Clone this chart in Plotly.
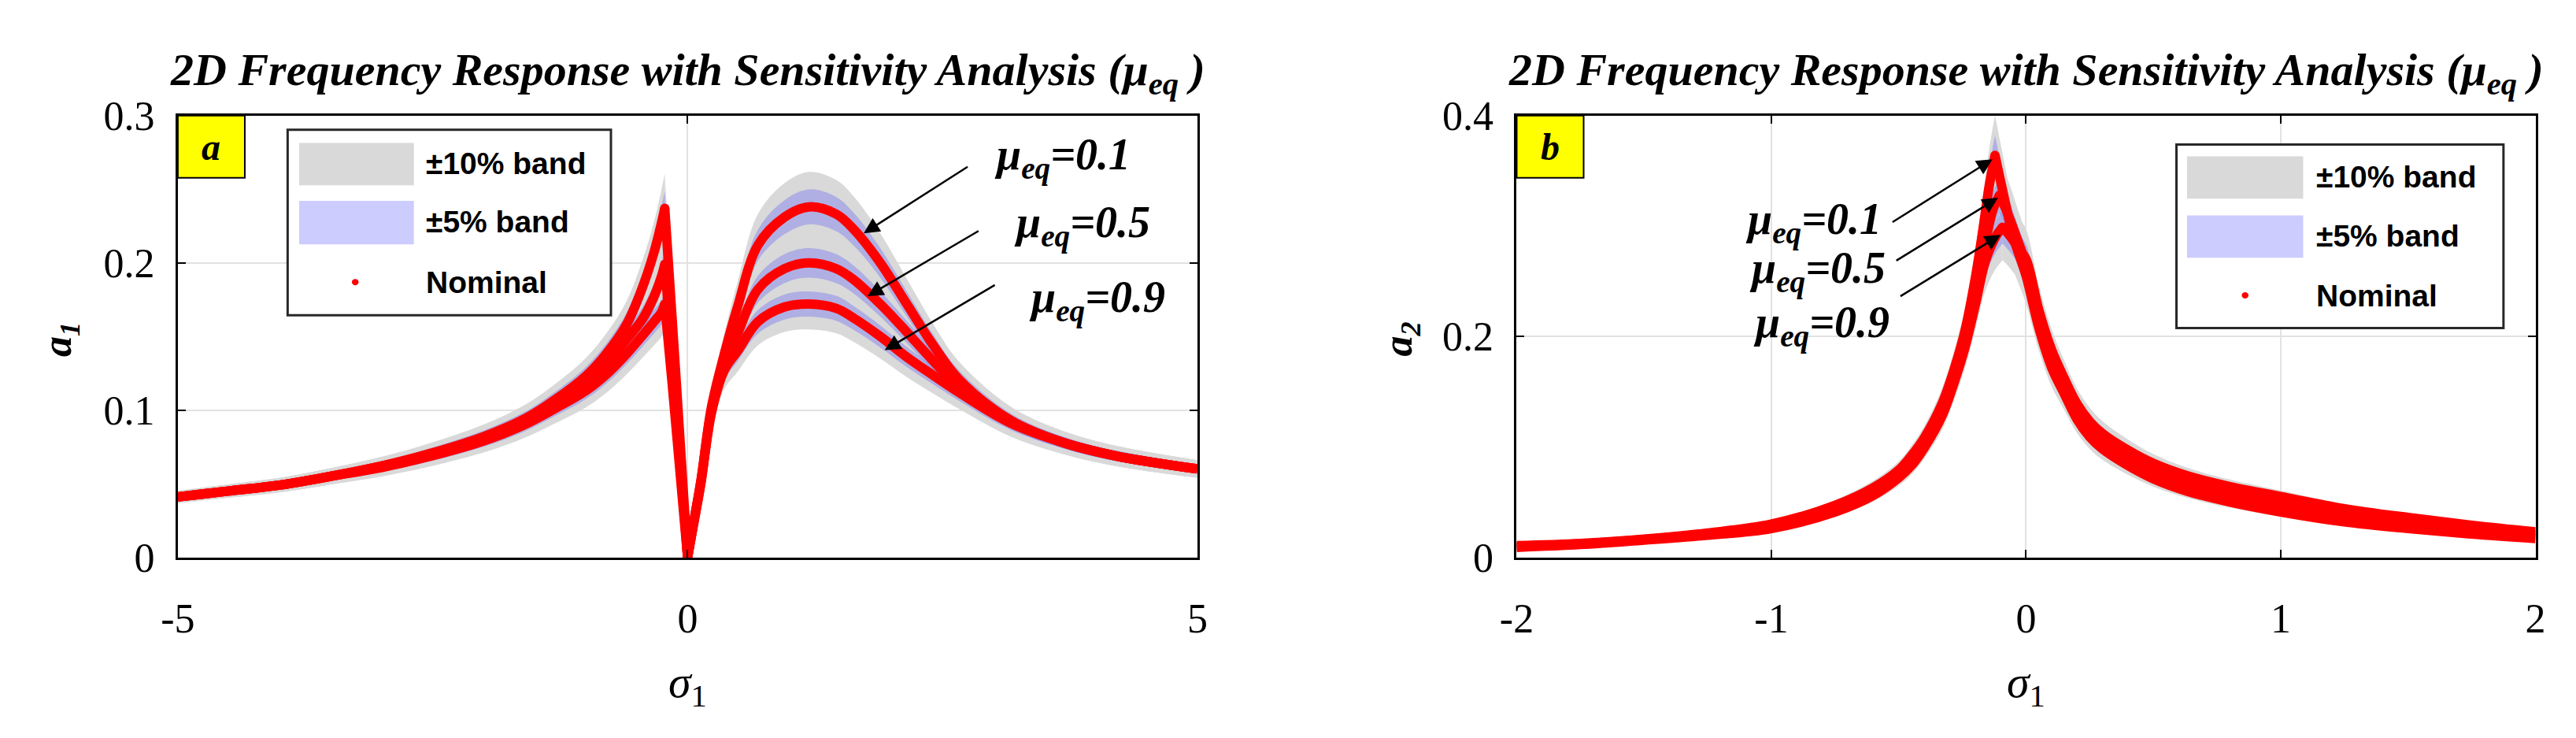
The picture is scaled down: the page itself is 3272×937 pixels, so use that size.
import plotly.graph_objects as go

# ---------------- data ----------------
mu_labels = ["0.1", "0.5", "0.9"]

# Panel a : a1 vs sigma1
sig_a = [-5, -4.5, -4, -3.5, -3, -2.5, -2, -1.6, -1.3, -1.0, -0.8, -0.6, -0.45, -0.33, -0.26, -0.224,
         -0.15, -0.1, -0.05, 0, 0.05, 0.13, 0.234, 0.36, 0.49, 0.69, 0.95, 1.19, 1.46, 1.64, 1.89,
         2.15, 2.4, 2.66, 3.17, 3.68, 4.19, 5.0]
a1_mu01 = [0.041, 0.045, 0.049, 0.055, 0.062, 0.071, 0.082, 0.094, 0.107, 0.123, 0.138, 0.158, 0.182, 0.207,
           0.226, 0.237, 0.160, 0.107, 0.053, 0.0, 0.020, 0.052, 0.102, 0.138, 0.170, 0.212, 0.231, 0.238,
           0.233, 0.222, 0.200, 0.172, 0.145, 0.121, 0.093, 0.078, 0.069, 0.060]
a1_mu05 = [0.041, 0.045, 0.049, 0.055, 0.062, 0.070, 0.080, 0.092, 0.104, 0.118, 0.131, 0.148, 0.161, 0.177,
           0.190, 0.199, 0.135, 0.090, 0.045, 0.0, 0.020, 0.051, 0.100, 0.132, 0.152, 0.182, 0.196, 0.200,
           0.196, 0.188, 0.172, 0.153, 0.134, 0.116, 0.092, 0.078, 0.069, 0.060]
a1_mu09 = [0.041, 0.045, 0.049, 0.055, 0.061, 0.069, 0.079, 0.090, 0.101, 0.113, 0.124, 0.138, 0.150, 0.160,
           0.166, 0.172, 0.117, 0.078, 0.039, 0.0, 0.019, 0.050, 0.098, 0.127, 0.140, 0.160, 0.170, 0.172,
           0.169, 0.162, 0.150, 0.136, 0.124, 0.112, 0.091, 0.078, 0.069, 0.060]

# Panel b : a2 vs sigma1
sig_b_mu01 = [-2.0, -1.75, -1.5, -1.25, -1.0, -0.75, -0.6, -0.5, -0.45, -0.4, -0.33, -0.28, -0.24, -0.2, -0.17,
              -0.145, -0.122, -0.09, -0.05, 0.0, 0.05, 0.1, 0.15, 0.2, 0.25, 0.3, 0.4, 0.5, 0.63, 0.8, 1.0, 1.25,
              1.5, 1.75, 2.0]
a2_mu01 = [0.0105, 0.0125, 0.0165, 0.022, 0.030, 0.047, 0.063, 0.079, 0.092, 0.108, 0.139, 0.172, 0.205, 0.252,
           0.296, 0.336, 0.364, 0.330, 0.290, 0.255, 0.208, 0.172, 0.148, 0.125, 0.109, 0.098, 0.083, 0.071,
           0.060, 0.050, 0.041, 0.032, 0.026, 0.021, 0.017]
sig_b_mu05 = [-2.0, -1.75, -1.5, -1.25, -1.0, -0.75, -0.6, -0.5, -0.45, -0.4, -0.33, -0.28, -0.24, -0.2, -0.16,
              -0.13, -0.104, -0.07, -0.03, 0.0, 0.05, 0.1, 0.15, 0.2, 0.25, 0.3, 0.4, 0.5, 0.63, 0.8, 1.0, 1.25,
              1.5, 1.75, 2.0]
a2_mu05 = [0.0097, 0.012, 0.016, 0.021, 0.028, 0.044, 0.060, 0.076, 0.088, 0.104, 0.134, 0.166, 0.198, 0.240,
           0.285, 0.315, 0.328, 0.310, 0.285, 0.265, 0.216, 0.180, 0.155, 0.132, 0.116, 0.105, 0.090, 0.078,
           0.067, 0.057, 0.048, 0.038, 0.031, 0.025, 0.020]
sig_b_mu09 = [-2.0, -1.75, -1.5, -1.25, -1.0, -0.75, -0.6, -0.5, -0.45, -0.4, -0.33, -0.28, -0.24, -0.2, -0.16,
              -0.12, -0.092, -0.06, -0.03, 0.0, 0.05, 0.1, 0.15, 0.2, 0.25, 0.3, 0.4, 0.5, 0.63, 0.8, 1.0, 1.25,
              1.5, 1.75, 2.0]
a2_mu09 = [0.009, 0.0115, 0.0155, 0.020, 0.026, 0.041, 0.056, 0.072, 0.083, 0.099, 0.128, 0.160, 0.190, 0.228,
           0.268, 0.290, 0.299, 0.290, 0.280, 0.270, 0.224, 0.188, 0.162, 0.139, 0.123, 0.112, 0.097, 0.085,
           0.074, 0.064, 0.055, 0.044, 0.036, 0.029, 0.023]

band_outer = 0.10   # +/-10 % band
band_inner = 0.05   # +/-5 % band

x_ticks_a = [-5, 0, 5]
x_ticks_b = [-2, -1, 0, 1, 2]
y_ticks_a = [0, 0.1, 0.2, 0.3]
y_ticks_b = [0, 0.2, 0.4]

# annotation anchor points (data coords): arrow head, arrow tail, label centre
arrows_a = [((1.727, 0.2201), (2.758, 0.2658), (3.68, 0.2714)),
            ((1.765, 0.1774), (2.865, 0.2221), (3.87, 0.2250)),
            ((1.933, 0.1407), (3.025, 0.1854), (4.02, 0.1744))]
arrows_b = [((-0.132, 0.3605), (-0.529, 0.3029), (-0.835, 0.3029)),
            ((-0.110, 0.3256), (-0.514, 0.2680), (-0.820, 0.2593)),
            ((-0.100, 0.2920), (-0.498, 0.2358), (-0.805, 0.2097))]

# ---------------- styles ----------------
GRAY = "rgb(217,217,217)"
BLUE_PLOT = "rgba(140,140,235,0.55)"
BLUE_LEG = "rgb(204,204,255)"
RED = "rgb(255,0,0)"
SERIF = "Liberation Serif"
SANS = "Liberation Sans"
LINE_W = 12

fig = go.Figure()


def sharp_points(s, a):
    """indices where the response has a cusp: the resonance tip (max over sigma<0) and sigma=0 notch."""
    neg = [i for i, v in enumerate(s) if v < 0]
    tip = max(neg, key=lambda i: a[i])
    cuts = [tip]
    if 0 in s and a[s.index(0)] == 0:
        cuts.append(s.index(0))
    return cuts


def split(seq, cuts):
    bounds = [0] + cuts + [len(seq) - 1]
    return [seq[bounds[i]:bounds[i + 1] + 1] for i in range(len(bounds) - 1)]


def add_band(s, a, frac, color, xa, ya):
    cuts = sharp_points(s, a)
    for ss, aa in zip(split(s, cuts), split(a, cuts)):
        fig.add_trace(go.Scatter(x=ss, y=[v * (1 - frac) for v in aa], mode="lines",
                                 line=dict(width=0, shape="spline"), hoverinfo="skip", showlegend=False,
                                 xaxis=xa, yaxis=ya))
        fig.add_trace(go.Scatter(x=ss, y=[v * (1 + frac) for v in aa], mode="lines", fill="tonexty",
                                 fillcolor=color, line=dict(width=0, shape="spline"), hoverinfo="skip",
                                 showlegend=False, xaxis=xa, yaxis=ya))


def add_panel(curves, xa, ya):
    for s, a in curves:
        add_band(s, a, band_outer, GRAY, xa, ya)
    for s, a in curves:
        add_band(s, a, band_inner, BLUE_PLOT, xa, ya)
    for (s, a), m in zip(curves, mu_labels):
        cuts = sharp_points(s, a)
        for ss, aa in zip(split(s, cuts), split(a, cuts)):
            fig.add_trace(go.Scatter(x=ss, y=aa, mode="lines",
                                     line=dict(color=RED, width=LINE_W, shape="spline", smoothing=1.0),
                                     name="Nominal \u03bc=" + m, showlegend=False, xaxis=xa, yaxis=ya))
        fig.add_trace(go.Scatter(x=[s[i] for i in cuts], y=[a[i] for i in cuts], mode="markers",
                                 marker=dict(color=RED, size=LINE_W, line=dict(width=0)),
                                 hoverinfo="skip", showlegend=False, xaxis=xa, yaxis=ya))


add_panel([(sig_a, a1_mu01), (sig_a, a1_mu05), (sig_a, a1_mu09)], "x", "y")
add_panel([(sig_b_mu01, a2_mu01), (sig_b_mu05, a2_mu05), (sig_b_mu09, a2_mu09)], "x2", "y2")

TOP, BOT = 118, 715
H, W = 937, 3272
ydom = [1 - BOT / H, 1 - TOP / H]


def tick_txt(v):
    return "%g" % v


axis_common = dict(showline=True, linecolor="black", linewidth=3, mirror="ticks", ticks="inside",
                   ticklen=10, tickwidth=2, tickcolor="black", showgrid=True, gridcolor="rgb(226,226,226)",
                   gridwidth=2, zeroline=False, tickfont=dict(family=SERIF, size=52, color="black"))

fig.update_layout(
    width=W, height=H, margin=dict(l=0, r=0, t=0, b=0),
    paper_bgcolor="white", plot_bgcolor="white", showlegend=False,
    xaxis=dict(domain=[198 / W, 1507 / W], range=[-5, 5], tickvals=x_ticks_a,
               ticktext=[tick_txt(v) for v in x_ticks_a], ticklabelstandoff=30, anchor="y", **axis_common),
    yaxis=dict(domain=ydom, range=[0, 0.3], tickvals=y_ticks_a, ticktext=[tick_txt(v) for v in y_ticks_a],
               ticklabelstandoff=16, anchor="x", **axis_common),
    xaxis2=dict(domain=[1917 / W, 3225 / W], range=[-2, 2], tickvals=x_ticks_b,
                ticktext=[tick_txt(v) for v in x_ticks_b], ticklabelstandoff=30, anchor="y2", **axis_common),
    yaxis2=dict(domain=ydom, range=[0, 0.4], tickvals=y_ticks_b, ticktext=[tick_txt(v) for v in y_ticks_b],
                ticklabelstandoff=16, anchor="x2", **axis_common),
)

ann = []
shapes = []
title_txt = "<b><i>2D Frequency Response with Sensitivity Analysis (\u03bc<sub>eq</sub> )</i></b>"
for xr in ["x domain", "x2 domain"]:
    ann.append(dict(text=title_txt, xref=xr, yref="paper", x=0.5, y=1 - 60 / H, xanchor="center",
                    yanchor="middle", showarrow=False, font=dict(family=SERIF, size=58, color="black")))

# axis titles
ann.append(dict(text="<b><i>a<sub>1</sub></i></b>", xref="paper", yref="paper", x=47 / W, y=1 - 420 / H,
                xanchor="center", yanchor="middle", textangle=-90, showarrow=False,
                font=dict(family=SERIF, size=52, color="black")))
ann.append(dict(text="<b><i>a<sub>2</sub></i></b>", xref="paper", yref="paper", x=1768 / W, y=1 - 420 / H,
                xanchor="center", yanchor="middle", textangle=-90, showarrow=False,
                font=dict(family=SERIF, size=52, color="black")))
for xr in ["x domain", "x2 domain"]:
    ann.append(dict(text="<i>\u03c3</i><sub>1</sub>", xref=xr, yref="paper", x=0.5, y=1 - 888 / H,
                    xanchor="center", yanchor="middle", showarrow=False,
                    font=dict(family=SERIF, size=58, color="black")))

# panel tags
for xr, yr, tag in [("x domain", "y domain", "a"), ("x2 domain", "y2 domain", "b")]:
    shapes.append(dict(type="rect", xref=xr, yref=yr, x0=0, x1=86 / 1309, y0=1 - 84 / 597, y1=1,
                       fillcolor="rgb(255,255,0)", line=dict(color="black", width=2), layer="above"))
    ann.append(dict(text="<b><i>" + tag + "</i></b>", xref=xr, yref=yr, x=43 / 1309, y=1 - 42 / 597,
                    xanchor="center", yanchor="middle", showarrow=False,
                    font=dict(family=SERIF, size=48, color="black")))


# legends (drawn in axis-domain coordinates)
def legend(xr, yr, x0, x1, y0, y1, sw_x0, sw_x1, g_y, b_y, dot_x, dot_y, txt_x, txt_y):
    shapes.append(dict(type="rect", xref=xr, yref=yr, x0=x0, x1=x1, y0=y0, y1=y1, fillcolor="white",
                       line=dict(color="rgb(40,40,40)", width=3), layer="above"))
    shapes.append(dict(type="rect", xref=xr, yref=yr, x0=sw_x0, x1=sw_x1, y0=g_y[0], y1=g_y[1],
                       fillcolor=GRAY, line=dict(width=0), layer="above"))
    shapes.append(dict(type="rect", xref=xr, yref=yr, x0=sw_x0, x1=sw_x1, y0=b_y[0], y1=b_y[1],
                       fillcolor=BLUE_LEG, line=dict(width=0), layer="above"))
    shapes.append(dict(type="circle", xref=xr, yref=yr, x0=dot_x - 0.0033, x1=dot_x + 0.0033,
                       y0=dot_y - 0.0072, y1=dot_y + 0.0072, fillcolor=RED, line=dict(width=0), layer="above"))
    for t, yy in zip(["\u00b110% band", "\u00b15% band", "Nominal"], txt_y):
        ann.append(dict(text="<b>" + t + "</b>", xref=xr, yref=yr, x=txt_x, y=yy, xanchor="left",
                        yanchor="middle", showarrow=False, font=dict(family=SANS, size=39, color="black")))


legend("x domain", "y domain", 0.1077, 0.4248, 0.548, 0.968, 0.119, 0.2315, (0.8425, 0.938), (0.7085, 0.807),
       0.174, 0.623, 0.242, [0.891, 0.759, 0.623])
legend("x2 domain", "y2 domain", 0.6476, 0.9686, 0.519, 0.9347, 0.658, 0.772, (0.812, 0.908), (0.678, 0.774),
       0.715, 0.593, 0.7836, [0.861, 0.727, 0.593])

# mu_eq arrows and labels
for arrows, xr, yr in [(arrows_a, "x", "y"), (arrows_b, "x2", "y2")]:
    for (head, tail, lab), m in zip(arrows, mu_labels):
        ann.append(dict(text="", x=head[0], y=head[1], ax=tail[0], ay=tail[1], xref=xr, yref=yr,
                        axref=xr, ayref=yr, showarrow=True, arrowhead=2, arrowsize=1.6, arrowwidth=2.5,
                        arrowcolor="black", standoff=0))
        ann.append(dict(text="<b><i>\u03bc<sub>eq</sub>=" + m + "</i></b>", x=lab[0], y=lab[1], xref=xr,
                        yref=yr, showarrow=False, xanchor="center", yanchor="middle",
                        font=dict(family=SERIF, size=56, color="black")))

fig.update_layout(annotations=ann, shapes=shapes)
fig.write_html("out.html")
